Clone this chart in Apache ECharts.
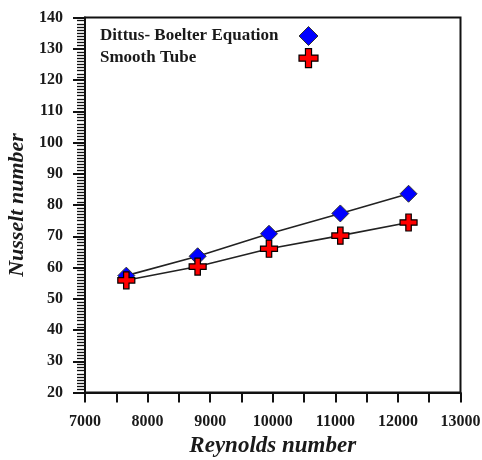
<!DOCTYPE html>
<html>
<head>
<meta charset="utf-8">
<script src="https://cdn.jsdelivr.net/npm/echarts@6/dist/echarts.min.js"></script>
<style>
  html, body { margin: 0; padding: 0; background: #fff; }
  #chart { width: 482px; height: 460px; }
</style>
</head>
<body>
<div id="chart"></div>
<script>
// Reynolds number of each test point
const reynolds = [7660, 8800, 9940, 11080, 12170];
// Nusselt number from the Dittus-Boelter correlation
const nuDittus = [57.4, 63.6, 70.8, 77.3, 83.6];
// Measured Nusselt number for the smooth tube
const nuSmooth = [55.9, 60.3, 66.0, 70.2, 74.4];

const nameDittus = 'Dittus- Boelter Equation';
const nameSmooth = 'Smooth Tube';

const serif = '"Liberation Serif", "Times New Roman", serif';
const crossPath = 'path://M3.4,0H6.6V3.4H10V6.6H6.6V10H3.4V6.6H0V3.4H3.4Z';

const pairs = (xs, ys) => xs.map((x, i) => [x, ys[i]]);

const chart = echarts.init(document.getElementById('chart'), null, { renderer: 'canvas' });

chart.setOption({
  animation: false,
  backgroundColor: '#ffffff',
  grid: {
    left: 85, right: 21.5, top: 17.5, bottom: 67.5,
    outerBoundsMode: 'none',
    containLabel: false,
    show: true, borderColor: '#111', borderWidth: 2, backgroundColor: 'transparent'
  },
  legend: {
    orient: 'vertical',
    left: 100, top: 26,
    padding: 0,
    align: 'right',
    itemWidth: 19, itemHeight: 19, itemGap: 2,
    formatter: n => '{t|' + n + '}',
    textStyle: {
      rich: {
        t: { width: 194, lineHeight: 19, align: 'left', fontFamily: serif, fontWeight: 'bold', fontSize: 17, color: '#1a1a1a' }
      }
    },
    data: [
      { name: nameDittus, icon: 'diamond', itemStyle: { color: '#0000ff', borderColor: '#333', borderWidth: 1 } },
      { name: nameSmooth, icon: crossPath, itemStyle: { color: '#ff0000', borderColor: '#000', borderWidth: 1.2 } }
    ]
  },
  xAxis: {
    type: 'value',
    min: 7000, max: 13000, interval: 500,
    name: 'Reynolds number',
    nameLocation: 'middle',
    nameGap: 35,
    nameTextStyle: { fontFamily: serif, fontWeight: 'bold', fontStyle: 'italic', fontSize: 23, color: '#1a1a1a' },
    axisLine: { show: true, onZero: false, lineStyle: { color: '#111', width: 2 } },
    axisTick: { show: true, inside: false, length: 10, lineStyle: { color: '#111', width: 2 } },
    axisLabel: {
      margin: 21,
      hideOverlap: false,
      fontFamily: serif, fontWeight: 'bold', fontSize: 16, color: '#1a1a1a',
      formatter: v => (v % 1000 === 0 ? String(v) : '')
    },
    splitLine: { show: false }
  },
  yAxis: {
    type: 'value',
    min: 20, max: 140, interval: 10,
    name: 'Nusselt number',
    nameLocation: 'middle',
    nameGap: 53,
    nameTextStyle: { fontFamily: serif, fontWeight: 'bold', fontStyle: 'italic', fontSize: 22, color: '#1a1a1a' },
    axisLine: { show: true, onZero: false, lineStyle: { color: '#111', width: 2 } },
    axisTick: { show: true, inside: false, length: 12, lineStyle: { color: '#111', width: 2 } },
    minorTick: { show: true, splitNumber: 10, length: 8, lineStyle: { color: '#111', width: 1.3 } },
    axisLabel: { margin: 22, fontFamily: serif, fontWeight: 'bold', fontSize: 16, color: '#1a1a1a' },
    splitLine: { show: false },
    minorSplitLine: { show: false }
  },
  series: [
    {
      name: nameDittus,
      type: 'line',
      data: pairs(reynolds, nuDittus),
      symbol: 'diamond',
      symbolSize: 17,
      showAllSymbol: true,
      lineStyle: { color: '#222', width: 1.6 },
      itemStyle: { color: '#0000ff', borderColor: '#333', borderWidth: 1 },
      z: 2
    },
    {
      name: nameSmooth,
      type: 'line',
      data: pairs(reynolds, nuSmooth),
      symbol: crossPath,
      symbolSize: 17,
      showAllSymbol: true,
      lineStyle: { color: '#222', width: 1.6 },
      itemStyle: { color: '#ff0000', borderColor: '#000', borderWidth: 1.2 },
      z: 3
    }
  ]
});
</script>
</body>
</html>
